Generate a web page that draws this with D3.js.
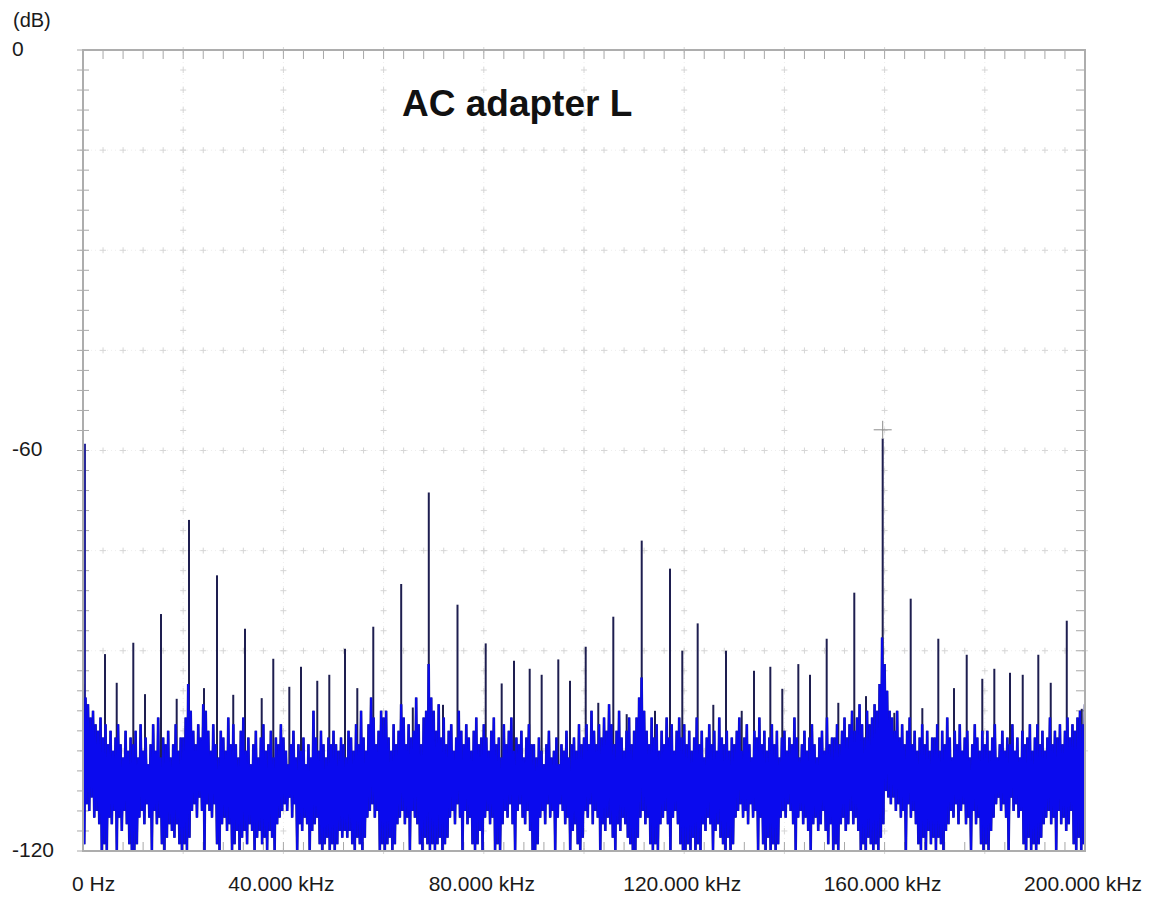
<!DOCTYPE html>
<html><head><meta charset="utf-8">
<script src="https://cdn.jsdelivr.net/npm/d3@7"></script>
<style>html,body{margin:0;padding:0;background:#fff;} svg{display:block;}</style>
</head><body>
<svg id="chart" width="1155" height="898"></svg>
<script>
// ---------------- data ----------------
const title = "AC adapter L";
const yUnit = "(dB)";
const yTickValues = [0, -60, -120];
const yTickLabels = ["0", "-60", "-120"];
const xTickValues = [0, 40, 80, 120, 160, 200];
const xTickLabels = ["0 Hz", "40.000 kHz", "80.000 kHz", "120.000 kHz", "160.000 kHz", "200.000 kHz"];

// discrete spectral lines (kHz, dB)
const spikeFreqs = [0.3, 4.39, 6.73, 10.04, 12.38, 15.57, 18.70, 21.16, 24.15, 26.75, 29.99, 32.34, 35.67, 37.98, 41.18, 43.51, 46.76, 49.16, 52.29, 54.75, 57.94, 63.51, 65.83, 69.02, 71.86, 74.75, 80.38, 83.57, 86.03, 89.16, 91.55, 94.87, 97.21, 100.34, 102.85, 105.85, 108.52, 111.52, 114.17, 117.17, 119.62, 122.69, 125.81, 128.34, 131.48, 133.93, 137.19, 139.58, 142.78, 145.11, 148.44, 150.76, 153.95, 156.29, 159.62, 161.94, 165.21, 167.53, 170.72, 173.85, 176.39, 179.50, 181.90, 185.03, 187.57, 190.68, 193.16, 196.36, 199.35];
const spikeLevels = [-59.0, -90.5, -94.8, -88.8, -96.5, -84.5, -97.2, -70.4, -95.6, -78.7, -96.6, -86.7, -97.1, -91.2, -95.4, -92.4, -94.5, -93.6, -89.7, -95.6, -86.4, -80.0, -98.5, -66.3, -98.1, -83.1, -88.9, -94.9, -91.5, -92.7, -93.6, -91.3, -94.5, -89.4, -97.8, -84.9, -99.5, -73.5, -99.0, -77.7, -90.0, -85.9, -98.1, -90.0, -99.0, -93.0, -92.4, -95.7, -92.0, -93.6, -88.2, -97.8, -81.3, -96.8, -58.2, -99.3, -82.2, -98.6, -88.2, -95.6, -90.6, -94.2, -92.7, -93.3, -93.6, -90.6, -94.8, -85.5, -98.7];

// peak marker
const markerFreqs = [159.62];
const markerLevels = [-56.9];

// noise floor, 0.5 kHz bins from 0 to 200 kHz: per-bin max and min (dB)
const noiseStepKHz = 0.5;
const noiseTop = [
-95,-97,-98,-100,-99,-101,-102,-100,-103,-101,-104,-102,-105,-103,-101,-104,-106,-102,-105,-103,
-104,-102,-106,-101,-105,-103,-107,-104,-101,-105,-100,-106,-103,-104,-102,-106,-104,-101,-105,-103,
-103,-100,-95,-99,-102,-104,-101,-103,-98,-99,-102,-105,-101,-104,-106,-102,-103,-105,-100,-104,
-101,-104,-106,-102,-100,-105,-103,-107,-104,-102,-106,-103,-101,-105,-104,-102,-106,-103,-104,-101,
-103,-105,-107,-104,-102,-106,-104,-105,-103,-107,-104,-106,-99,-103,-105,-102,-104,-106,-103,-104,
-102,-104,-105,-103,-104,-106,-102,-103,-105,-101,-104,-99,-103,-105,-101,-97,-100,-104,-102,-99,
-100,-99,-103,-105,-101,-104,-102,-98,-100,-104,-101,-103,-102,-97,-101,-104,-100,-99,-92,-97,
-99,-102,-98,-103,-100,-104,-102,-101,-105,-103,-99,-102,-104,-101,-103,-105,-102,-100,-104,-103,
-101,-103,-105,-102,-100,-104,-103,-106,-101,-104,-102,-100,-105,-103,-104,-102,-106,-103,-101,-104,
-104,-106,-103,-105,-107,-104,-102,-106,-105,-103,-107,-104,-105,-102,-106,-104,-103,-105,-101,-104,
-103,-101,-104,-99,-102,-104,-101,-103,-100,-102,-98,-101,-104,-102,-99,-103,-105,-102,-100,-104,
-102,-100,-97,-94,-99,-102,-104,-100,-103,-101,-105,-102,-104,-100,-103,-101,-105,-102,-100,-103,
-101,-104,-102,-105,-103,-100,-104,-102,-106,-103,-101,-104,-102,-105,-100,-103,-104,-102,-105,-103,
-104,-102,-100,-105,-103,-101,-104,-106,-102,-103,-100,-104,-102,-105,-103,-101,-104,-102,-106,-103,
-102,-105,-103,-104,-100,-103,-106,-104,-102,-105,-103,-101,-104,-106,-103,-102,-105,-100,-104,-103,
-103,-101,-104,-102,-100,-103,-101,-99,-102,-100,-98,-101,-103,-99,-101,-100,-98,-99,-95,-88,
-92,-96,-99,-100,-102,-99,-103,-101,-104,-102,-100,-104,-102,-105,-103,-101,-104,-102,-105,-103,
-103,-101,-105,-102,-104,-100,-103,-106,-102,-104,-101,-105,-103,-102,-106,-104,-101,-103,-105,-102,
-104,-102,-105,-103,-101,-106,-104,-102,-105,-103,-104,-101,-105,-103,-106,-102,-104,-103,-101,-105,
-103,-101,-104,-102,-105,-103,-100,-104,-102,-103,-101,-104,-102,-100,-103,-101,-102,-100,-99,-101,
-98];
const noiseBottom = [
-119,-113,-114,-112,-115,-114,-116,-120,-119,-120,-115,-116,-114,-120,-115,-117,-114,-116,-119,-120,
-120,-119,-115,-114,-116,-113,-115,-120,-114,-116,-115,-119,-120,-118,-116,-117,-118,-116,-119,-120,
-119,-120,-118,-114,-113,-115,-112,-114,-120,-113,-114,-115,-113,-119,-120,-116,-115,-117,-116,-120,
-119,-117,-120,-118,-117,-119,-116,-117,-120,-118,-117,-119,-118,-120,-117,-118,-120,-116,-115,-114,
-113,-114,-112,-115,-113,-120,-116,-117,-115,-116,-120,-117,-116,-115,-119,-120,-119,-118,-120,-119,
-120,-119,-117,-118,-117,-118,-117,-119,-120,-118,-119,-120,-118,-115,-114,-113,-115,-114,-120,-119,
-120,-119,-118,-120,-119,-116,-115,-114,-116,-115,-120,-114,-115,-116,-119,-120,-118,-119,-120,-119,
-120,-119,-118,-120,-119,-118,-115,-114,-116,-113,-115,-120,-114,-116,-115,-119,-120,-119,-117,-120,
-115,-114,-116,-115,-120,-119,-120,-116,-114,-115,-113,-116,-120,-114,-113,-115,-116,-114,-117,-120,
-120,-119,-115,-114,-116,-113,-115,-114,-120,-115,-113,-114,-116,-115,-120,-117,-116,-119,-120,-118,
-114,-115,-113,-116,-114,-115,-120,-116,-117,-115,-116,-118,-120,-116,-117,-115,-116,-118,-119,-120,
-120,-118,-115,-114,-116,-115,-119,-120,-119,-120,-116,-115,-114,-116,-120,-115,-114,-116,-119,-120,
-120,-119,-120,-118,-120,-119,-120,-116,-117,-115,-116,-120,-117,-116,-118,-119,-120,-118,-120,-119,
-115,-114,-113,-115,-114,-116,-113,-115,-114,-120,-115,-119,-120,-118,-120,-119,-120,-119,-115,-114,
-115,-113,-114,-116,-120,-115,-114,-116,-115,-117,-120,-116,-115,-117,-116,-114,-117,-119,-116,-120,
-119,-120,-116,-115,-117,-116,-114,-116,-115,-117,-120,-119,-120,-118,-119,-120,-119,-120,-118,-116,
-111,-112,-113,-112,-114,-113,-115,-114,-120,-113,-115,-114,-116,-119,-120,-118,-120,-117,-119,-118,
-120,-118,-119,-120,-117,-116,-114,-115,-113,-116,-114,-113,-116,-115,-120,-114,-116,-115,-119,-120,
-119,-120,-117,-115,-113,-112,-114,-113,-115,-120,-112,-114,-113,-115,-114,-119,-120,-118,-120,-119,
-120,-119,-118,-116,-115,-114,-116,-115,-120,-114,-116,-115,-117,-116,-114,-119,-120,-118,-120,-119,
-118];

// ---------------- layout / style ----------------
const W = 1155, H = 898;
const plotL = 83, plotR = 1085, plotT = 50, plotB = 851;
const spikeBaseDb = -108;
const frameColor = "#adadad";
const blue = "#0a0aee";
const edgeColor = "#22227a";
const spikeColor = "#1e1e50";

const svg = d3.select("#chart");
svg.append("rect").attr("width", W).attr("height", H).attr("fill", "#fff");

const x = d3.scaleLinear().domain([0, 200]).range([plotL, plotR]);
const y = d3.scaleLinear().domain([0, -120]).range([plotT, plotB]);

// ----- grid (faint dotted lines with small crosses) -----
const grid = svg.append("g");
const majorX = d3.range(20, 200, 20);
const majorY = d3.range(-15, -120, -15);
const minorX = d3.range(0, 200.01, 4);
const minorY = d3.range(0, -120.01, -3);
grid.selectAll("line.vx").data(majorX).join("line")
  .attr("x1", d => x(d)).attr("x2", d => x(d)).attr("y1", plotT).attr("y2", plotB)
  .attr("stroke", "#eeeeee").attr("stroke-dasharray", "1,3");
grid.selectAll("line.hy").data(majorY).join("line")
  .attr("y1", d => y(d)).attr("y2", d => y(d)).attr("x1", plotL).attr("x2", plotR)
  .attr("stroke", "#eeeeee").attr("stroke-dasharray", "1,3");
majorX.forEach(gx => {
  minorY.forEach(gy => {
    grid.append("path")
      .attr("d", `M${x(gx)-3},${y(gy)}h6M${x(gx)},${y(gy)-3}v6`)
      .attr("stroke", "#d6d6d6").attr("stroke-width", 1).attr("fill", "none");
  });
});
majorY.forEach(gy => {
  minorX.forEach(gx => {
    grid.append("path")
      .attr("d", `M${x(gx)-3},${y(gy)}h6M${x(gx)},${y(gy)-3}v6`)
      .attr("stroke", "#d6d6d6").attr("stroke-width", 1).attr("fill", "none");
  });
});

// ----- frame ticks -----
const ticks = svg.append("g").attr("stroke", "#a8a8a8").attr("stroke-width", 1);
ticks.selectAll("line.t").data(minorX).join("line")
  .attr("x1", d => x(d)).attr("x2", d => x(d)).attr("y1", plotT).attr("y2", plotT + 9);
ticks.selectAll("line.b").data(minorX).join("line")
  .attr("x1", d => x(d)).attr("x2", d => x(d)).attr("y1", plotB).attr("y2", plotB - 9);
ticks.selectAll("line.l").data(minorY).join("line")
  .attr("y1", d => y(d)).attr("y2", d => y(d)).attr("x1", plotL - 6).attr("x2", plotL + 6);
ticks.selectAll("line.r").data(minorY).join("line")
  .attr("y1", d => y(d)).attr("y2", d => y(d)).attr("x1", plotR - 9).attr("x2", plotR);

// ----- data -----
svg.append("clipPath").attr("id", "clip").append("rect")
  .attr("x", plotL).attr("y", plotT).attr("width", plotR - plotL).attr("height", plotB - plotT);
const plot = svg.append("g").attr("clip-path", "url(#clip)");

plot.selectAll("line.spike").data(spikeFreqs).join("line")
  .attr("x1", d => x(d)).attr("x2", d => x(d))
  .attr("y1", y(spikeBaseDb))
  .attr("y2", (d, i) => y(spikeLevels[i]))
  .attr("stroke", (d, i) => i === 0 ? "#2a2a9a" : spikeColor)
  .attr("stroke-width", (d, i) => i === 0 ? 3 : 2);

const pts = [];
noiseTop.forEach((t, i) => {
  const f = i * noiseStepKHz;
  pts.push([x(f), y(t)]);
  pts.push([x(f + noiseStepKHz / 2), y(noiseBottom[i])]);
});
const tracePath = d3.line()(pts);
plot.append("path").attr("d", tracePath)
  .attr("fill", "none").attr("stroke", edgeColor).attr("stroke-width", 2.6);
plot.append("path").attr("d", tracePath)
  .attr("fill", "none").attr("stroke", blue).attr("stroke-width", 2.0);

markerFreqs.forEach((f, i) => {
  svg.append("path")
    .attr("d", `M${x(f)-9},${y(markerLevels[i])}h18M${x(f)},${y(markerLevels[i])-9}v18`)
    .attr("stroke", "#8c8c8c").attr("stroke-width", 1).attr("fill", "none");
});

svg.append("rect").attr("x", plotL).attr("y", plotT).attr("width", plotR - plotL).attr("height", plotB - plotT)
  .attr("fill", "none").attr("stroke", frameColor).attr("stroke-width", 2);

// ----- labels -----
const font = "'Liberation Sans', Arial, sans-serif";
svg.append("text").attr("x", 13).attr("y", 27).text(yUnit)
  .attr("font-family", font).attr("font-size", 20).attr("fill", "#1a1a1a");
svg.selectAll("text.yl").data(yTickValues).join("text")
  .attr("x", 12).attr("y", d => y(d) + 5.5)
  .text((d, i) => yTickLabels[i])
  .attr("font-family", font).attr("font-size", 21).attr("fill", "#1a1a1a");
svg.selectAll("text.xl").data(xTickValues).join("text")
  .attr("x", (d, i) => i === 0 ? 72 : x(d) - 2)
  .attr("text-anchor", (d, i) => i === 0 ? "start" : "middle")
  .attr("y", 891)
  .text((d, i) => xTickLabels[i])
  .attr("font-family", font).attr("font-size", 21).attr("fill", "#1a1a1a");

svg.append("text").attr("x", 402).attr("y", 116).text(title)
  .attr("font-family", font).attr("font-weight", "bold").attr("font-size", 37).attr("fill", "#111");
</script>
</body></html>
